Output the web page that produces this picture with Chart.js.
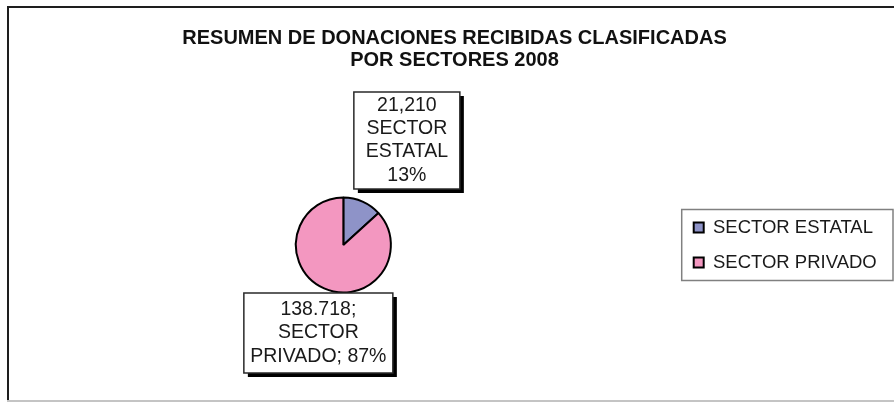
<!DOCTYPE html>
<html>
<head>
<meta charset="utf-8">
<script src="https://cdn.jsdelivr.net/npm/chart.js@4"></script>
<style>
  html, body { margin: 0; padding: 0; background: #fff; }
  #wrap { position: relative; width: 894px; height: 402px; }
</style>
</head>
<body>
<div id="wrap"><canvas id="chart"></canvas></div>
<script>
var TITLE_LINES = ["RESUMEN DE DONACIONES RECIBIDAS CLASIFICADAS", "POR SECTORES 2008"];
var SECTORS = ["SECTOR ESTATAL", "SECTOR PRIVADO"];
var DONATIONS = [21210, 138718];
var SLICE_COLORS = ["#8e93c8", "#f397c0"];
// label text as printed in the source (mixed number formats kept)
var LABEL_LINES = [
  ["21,210", "SECTOR", "ESTATAL", "13%"],
  ["138.718;", "SECTOR", "PRIVADO; 87%"],
];

var FONT = "'Liberation Sans', Arial, sans-serif";
var TITLE_CENTER_X = 454.5;

// box geometry relative to the pie centre: [dx, dy, width, height]
var LABEL_BOXES = [
  [10.5, -153, 106, 97],
  [-99.5, 48, 149, 80],
];

var framePlugin = {
  id: "frame",
  beforeDraw: function (chart) {
    var ctx = chart.ctx;
    ctx.save();
    ctx.fillStyle = "#ffffff";
    ctx.fillRect(0, 0, chart.width, chart.height);
    ctx.fillStyle = "#1e1e1e";
    ctx.fillRect(7, 6, 2, 395);
    ctx.fillRect(7, 6, chart.width - 7, 2);
    ctx.fillStyle = "#c4c4c4";
    ctx.fillRect(7, 400, chart.width - 7, 2);
    ctx.restore();
  },
};

var titleShift = {
  id: "titleShift",
  afterLayout: function (chart) {
    var t = chart.titleBlock;
    if (!t) return;
    var dx = TITLE_CENTER_X - (t.left + t.right) / 2;
    t.left += dx;
    t.right += dx;
  },
};

var legendBorder = {
  id: "legendBorder",
  afterDraw: function (chart) {
    var boxes = chart.legend && chart.legend.legendHitBoxes;
    if (!boxes || !boxes.length) return;
    var first = boxes[0];
    var last = boxes[boxes.length - 1];
    var right = 0;
    boxes.forEach(function (b) {
      right = Math.max(right, b.left + b.width);
    });
    var x0 = first.left - 12;
    var y0 = first.top + first.height / 2 - 18;
    var x1 = Math.min(right + 18, chart.width - 1);
    var y1 = last.top + last.height / 2 + 18;
    var ctx = chart.ctx;
    ctx.save();
    ctx.strokeStyle = "#808080";
    ctx.lineWidth = 1.5;
    ctx.strokeRect(x0, y0, x1 - x0, y1 - y0);
    ctx.restore();
  },
};

var sliceLabels = {
  id: "sliceLabels",
  afterDatasetsDraw: function (chart) {
    var meta = chart.getDatasetMeta(0);
    var ctx = chart.ctx;
    var lineH = 23.2;
    ctx.save();
    ctx.font = "19.5px " + FONT;
    ctx.textAlign = "center";
    ctx.textBaseline = "middle";
    meta.data.forEach(function (arc, i) {
      var g = LABEL_BOXES[i];
      var x = arc.x + g[0];
      var y = arc.y + g[1];
      var w = g[2];
      var h = g[3];
      ctx.fillStyle = "#000000";
      ctx.fillRect(x + 4, y + 4, w, h);
      ctx.fillStyle = "#ffffff";
      ctx.fillRect(x, y, w, h);
      ctx.strokeStyle = "#2a2a2a";
      ctx.lineWidth = 1.5;
      ctx.strokeRect(x, y, w, h);
      var lines = LABEL_LINES[i];
      var startY = y + h / 2 - ((lines.length - 1) * lineH) / 2;
      ctx.fillStyle = "#1a1a1a";
      lines.forEach(function (line, k) {
        ctx.fillText(line, x + w / 2, startY + k * lineH);
      });
    });
    ctx.restore();
  },
};

new Chart(document.getElementById("chart").getContext("2d"), {
  type: "pie",
  data: {
    labels: SECTORS,
    datasets: [
      {
        data: DONATIONS,
        backgroundColor: SLICE_COLORS,
        borderColor: "#000000",
        borderWidth: 2,
        hoverOffset: 0,
      },
    ],
  },
  options: {
    responsive: true,
    maintainAspectRatio: false,
    animation: false,
    radius: 47.5,
    layout: { padding: { left: 9.5, right: 7.25, top: 0, bottom: 10 } },
    plugins: {
      title: {
        display: true,
        text: TITLE_LINES,
        color: "#111111",
        font: { family: FONT, size: 20, weight: "bold", lineHeight: 1.1 },
        padding: { top: 27, bottom: 27 },
      },
      legend: {
        display: true,
        position: "right",
        fullSize: false,
        labels: {
          color: "#1a1a1a",
          font: { family: FONT, size: 18.5 },
          boxWidth: 10,
          boxHeight: 10,
          padding: 16.5,
        },
      },
      tooltip: { enabled: false },
    },
  },
  plugins: [framePlugin, titleShift, legendBorder, sliceLabels],
});
</script>
</body>
</html>
